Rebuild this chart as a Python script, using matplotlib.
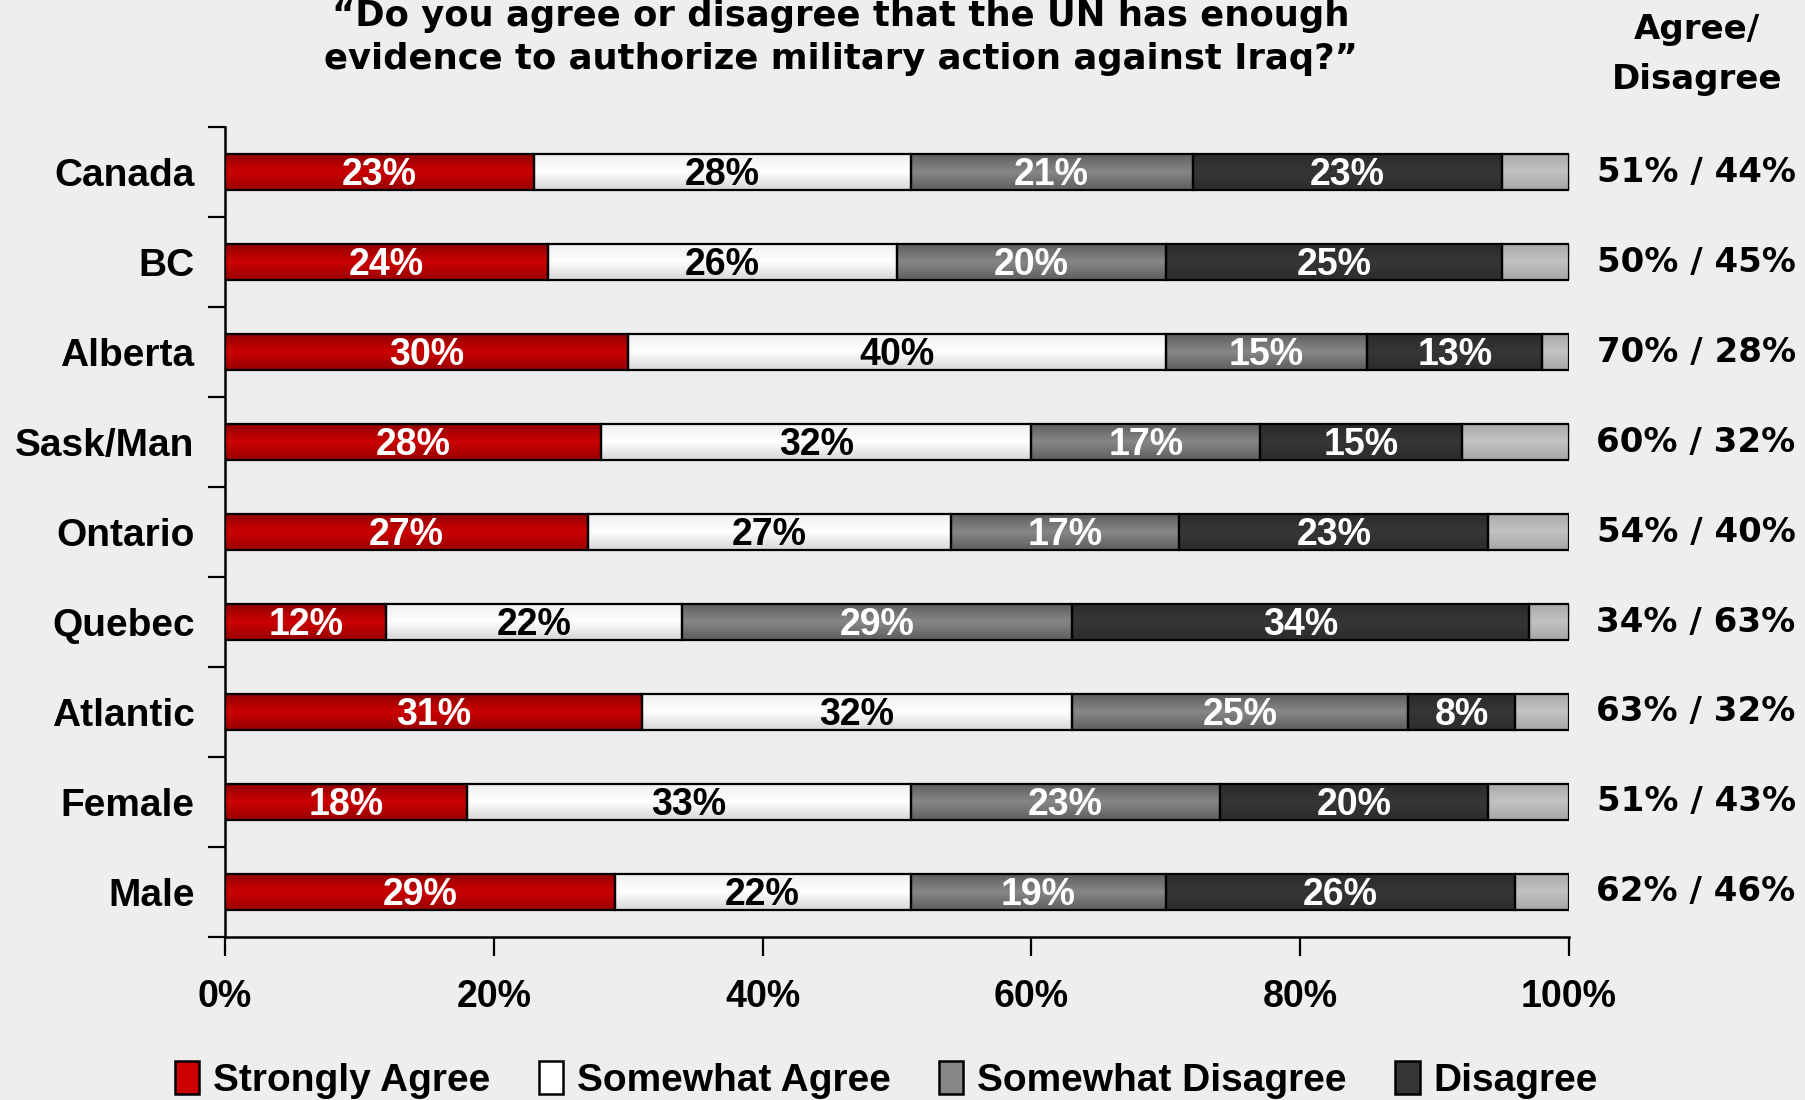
import matplotlib
matplotlib.use("Agg")
import matplotlib.pyplot as plt
from matplotlib.patches import Patch
from matplotlib.colors import to_rgb
import numpy as np

categories = ["Canada", "BC", "Alberta", "Sask/Man", "Ontario", "Quebec", "Atlantic", "Female", "Male"]
strongly_agree = [23, 24, 30, 28, 27, 12, 31, 18, 29]
somewhat_agree = [28, 26, 40, 32, 27, 22, 32, 33, 22]
somewhat_disagree = [21, 20, 15, 17, 17, 29, 25, 23, 19]
disagree = [23, 25, 13, 15, 23, 34, 8, 20, 26]
agree_disagree = ["51% / 44%", "50% / 45%", "70% / 28%", "60% / 32%", "54% / 40%",
                  "34% / 63%", "63% / 32%", "51% / 43%", "62% / 46%"]
series_names = ["Strongly Agree", "Somewhat Agree", "Somewhat Disagree", "Disagree"]
xticks = [0, 20, 40, 60, 80, 100]

title = "\u201cDo you agree or disagree that the UN has enough\nevidence to authorize military action against Iraq?\u201d"

# (top, centre, bottom) colours for the gradient of each series
grads = [("#8E0000", "#CC0000", "#980000"),
         ("#EEEEEE", "#FFFFFF", "#D6D6D6"),
         ("#5C5C5C", "#878787", "#5E5E5E"),
         ("#2A2A2A", "#363636", "#2C2C2C")]
rest_grad = ("#AAAAAA", "#C2C2C2", "#A6A6A6")
colors = [g[1] for g in grads]
text_colors = ["white", "black", "white", "white"]
BG = "#EEEEEE"

fig = plt.figure(figsize=(18.05, 11.0), dpi=100, facecolor=BG)
ax = fig.add_axes([0.1247, 0.1482, 0.8693 - 0.1247, 0.8845 - 0.1482], facecolor=BG)


def gradient_fill(container, grad):
    cols = np.array([to_rgb(c) for c in grad])
    t = np.linspace(0, 1, 64)
    img = np.stack([np.interp(t, [0, 0.5, 1], cols[:, k]) for k in range(3)], axis=-1)[:, None, :]
    for p in container.patches:
        bb = p.get_bbox()
        if bb.width <= 0:
            continue
        im = ax.imshow(img, extent=[bb.x0, bb.x1, bb.y1, bb.y0], aspect="auto",
                       interpolation="bilinear", zorder=3.2)
        im.set_clip_path(p)


series = [strongly_agree, somewhat_agree, somewhat_disagree, disagree]
y = np.arange(len(categories))
left = np.zeros(len(categories))
bar_h = 0.41
for vals, g, tcol in zip(series, grads, text_colors):
    vals = np.array(vals, dtype=float)
    bc = ax.barh(y, vals, left=left, height=bar_h, color=g[1], edgecolor="none", zorder=3)
    gradient_fill(bc, g)
    ax.barh(y, vals, left=left, height=bar_h, fill=False, edgecolor="black", linewidth=1.6, zorder=3.5)
    for yi, l, v in zip(y, left, vals):
        ax.text(l + v / 2, yi + 0.03, f"{int(v)}%", ha="center", va="center", color=tcol,
                fontsize=27, fontweight="bold", family="Liberation Sans", zorder=4)
    left = left + vals
rest = 100 - left
bc = ax.barh(y, rest, left=left, height=bar_h, color=rest_grad[1], edgecolor="none", zorder=3)
gradient_fill(bc, rest_grad)
ax.barh(y, rest, left=left, height=bar_h, fill=False, edgecolor="black", linewidth=1.6, zorder=3.5)

ax.set_xlim(0, 100)
ax.set_ylim(len(categories) - 0.5, -0.5)
ax.set_xticks(xticks)
ax.set_xticklabels([f"{t}%" for t in xticks], fontsize=27, fontweight="bold", family="Liberation Sans")
ax.set_yticks(y)
ax.set_yticklabels(categories, fontsize=28, fontweight="bold", family="Liberation Sans")
ax.tick_params(axis="y", length=0, pad=22)
ax.set_yticks(np.arange(-0.5, len(categories) + 0.5, 1), minor=True)
ax.tick_params(axis="y", which="minor", length=12, width=1.6, direction="out")
ax.tick_params(axis="x", length=14, width=1.6, direction="out", pad=16)
for s in ["top", "right"]:
    ax.spines[s].set_visible(False)
for s in ["left", "bottom"]:
    ax.spines[s].set_linewidth(1.8)

# right-hand column
for yi, txt in zip(y, agree_disagree):
    ax.text(1.0945, yi, txt, transform=ax.get_yaxis_transform(), ha="center", va="center",
            fontsize=24.5, fontweight="bold", family="DejaVu Sans")
fig.text(0.940, 0.9505, "Agree/\nDisagree", ha="center", va="center", fontsize=24.5,
         fontweight="bold", family="DejaVu Sans", linespacing=1.62)

fig.text(0.466, 0.966, title, ha="center", va="center", fontsize=25.5, fontweight="bold",
         family="DejaVu Sans", linespacing=1.35)

handles = [Patch(facecolor=c, edgecolor="black", linewidth=1.8) for c in colors]
fig.legend(handles, series_names, loc="center", bbox_to_anchor=(0.491, 0.018), ncol=4,
           frameon=False, prop={"family": "Liberation Sans", "weight": "bold", "size": 28},
           handlelength=0.62, handleheight=0.9, handletextpad=0.36, columnspacing=1.25)

fig.savefig("out.png", dpi=100, facecolor=BG)
